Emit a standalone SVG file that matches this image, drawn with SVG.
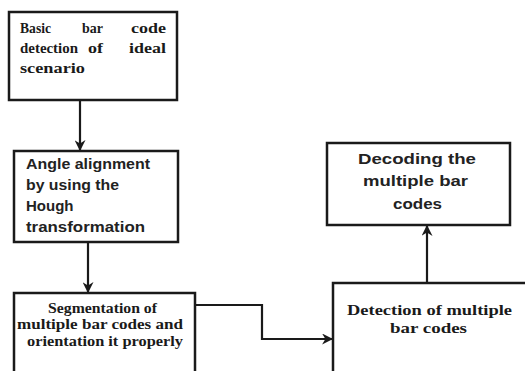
<svg xmlns="http://www.w3.org/2000/svg" width="525" height="371" viewBox="0 0 525 371">
<style>
.box{fill:#fff;stroke:#1a1a1a;stroke-width:2.5}
.edge{fill:none;stroke:#1a1a1a;stroke-width:2.2}
.serif{font-family:"Liberation Serif","DejaVu Serif",serif;font-weight:bold;fill:#1a1a1a;font-size:14px}
.sans{font-family:"Liberation Sans","DejaVu Sans",sans-serif;font-weight:bold;fill:#222;font-size:15px}
</style>
<defs>
<marker id="ah" viewBox="0 0 10 10" refX="9" refY="5" markerWidth="5" markerHeight="5" orient="auto" markerUnits="strokeWidth">
<path d="M0,0 L10,5 L0,10 L3,5 Z" fill="#1a1a1a"/>
</marker>
</defs>
<rect width="525" height="371" fill="#fff"/>
<g id="connectors">
<line class="edge" x1="80" y1="101" x2="80" y2="150" marker-end="url(#ah)"/>
<line class="edge" x1="88" y1="243" x2="88" y2="292" marker-end="url(#ah)"/>
<polyline class="edge" points="196,305 262,305 262,339 332,339" marker-end="url(#ah)"/>
<line class="edge" x1="427" y1="283" x2="427" y2="226" marker-end="url(#ah)"/>
</g>
<g id="n1">
<rect class="box" x="9" y="12" width="168" height="88"/>
<text class="serif" x="20" y="33" textLength="31" lengthAdjust="spacingAndGlyphs">Basic</text>
<text class="serif" x="82" y="33" textLength="21" lengthAdjust="spacingAndGlyphs">bar</text>
<text class="serif" x="131" y="33" textLength="35" lengthAdjust="spacingAndGlyphs">code</text>
<text class="serif" x="20" y="53" textLength="58" lengthAdjust="spacingAndGlyphs">detection</text>
<text class="serif" x="88" y="53" textLength="15" lengthAdjust="spacingAndGlyphs">of</text>
<text class="serif" x="129" y="53" textLength="37" lengthAdjust="spacingAndGlyphs">ideal</text>
<text class="serif" x="20" y="73" textLength="65" lengthAdjust="spacingAndGlyphs">scenario</text>
</g>
<g id="n2">
<rect class="box" x="14" y="151" width="164" height="91"/>
<text class="sans" x="26" y="169" textLength="124" lengthAdjust="spacingAndGlyphs">Angle alignment</text>
<text class="sans" x="26" y="190" textLength="93" lengthAdjust="spacingAndGlyphs">by using the</text>
<text class="sans" x="26" y="211">Hough</text>
<text class="sans" x="26" y="232" textLength="119" lengthAdjust="spacingAndGlyphs">transformation</text>
</g>
<g id="n3">
<rect class="box" x="14" y="293" width="181" height="90"/>
<text class="serif" x="48" y="313" font-size="13" textLength="109" lengthAdjust="spacingAndGlyphs">Segmentation of</text>
<text class="serif" x="17" y="329" font-size="13" textLength="166" lengthAdjust="spacingAndGlyphs">multiple bar codes and</text>
<text class="serif" x="27" y="346" font-size="13" textLength="156" lengthAdjust="spacingAndGlyphs">orientation it properly</text>
</g>
<g id="n4">
<rect class="box" x="333" y="283" width="200" height="100"/>
<text class="serif" x="347" y="315" textLength="165" lengthAdjust="spacingAndGlyphs">Detection of multiple</text>
<text class="serif" x="390" y="333" textLength="77" lengthAdjust="spacingAndGlyphs">bar codes</text>
</g>
<g id="n5">
<rect class="box" x="327" y="143" width="183" height="82"/>
<text class="sans" x="358" y="164" font-size="17" textLength="118" lengthAdjust="spacingAndGlyphs">Decoding the</text>
<text class="sans" x="363" y="186" font-size="17" textLength="105" lengthAdjust="spacingAndGlyphs">multiple bar</text>
<text class="sans" x="393" y="209" font-size="17" textLength="49" lengthAdjust="spacingAndGlyphs">codes</text>
</g>
</svg>
